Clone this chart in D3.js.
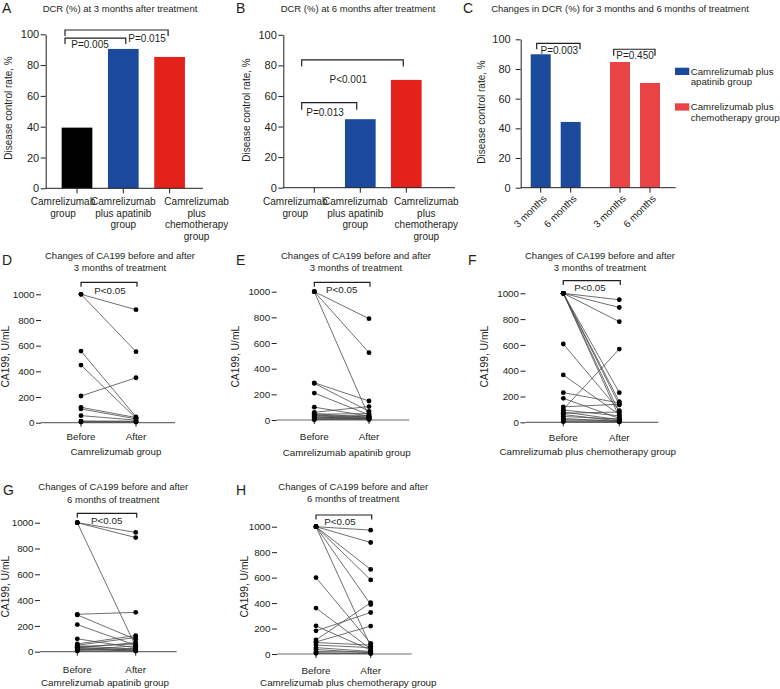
<!DOCTYPE html>
<html><head><meta charset="utf-8">
<script src="https://cdn.jsdelivr.net/npm/d3@7"></script>
<style>
body{margin:0;background:#fff}
svg{display:block}
text{font-family:"Liberation Sans",Arial,Helvetica,sans-serif;fill:#231f20}
</style>
</head><body>
<svg id="c" width="780" height="689"></svg>
<script>
// ---------------- DATA ----------------
const dcrCategories = ["Camrelizumab group", "Camrelizumab plus apatinib group", "Camrelizumab plus chemotherapy group"];
const dcrCategoryLines = [["Camrelizumab", "group"], ["Camrelizumab", "plus apatinib", "group"], ["Camrelizumab", "plus", "chemotherapy", "group"]];
const dcr3Months = [39.4, 90.5, 85.3];
const dcr6Months = [0, 44.8, 70.5];
const dcrTicks = [0, 20, 40, 60, 80, 100];
const changeGroups = ["Camrelizumab plus apatinib group", "Camrelizumab plus chemotherapy group"];
const changeTimes = ["3 months", "6 months"];
const changeApatinib = [89.9, 44.3];
const changeChemo = [84.7, 70.6];
const pA = ["P=0.005", "P=0.015"];
const pB = ["P=0.013", "P<0.001"];
const pC = ["P=0.003", "P=0.450"];
const ca199Ticks = [0, 200, 400, 600, 800, 1000];
const pairLabels = ["Before", "After"];
const pPaired = "P<0.05";

const dBefore = [1000, 1000, 558, 449, 208, 120, 107, 55, 13, 10, 5];
const dAfter  = [880, 553, 45, 35, 350, 40, 30, 20, 12, 8, 5];
const eBefore = [1000, 1000, 1000, 290, 285, 210, 100, 60, 50, 45, 40, 35, 30, 25, 20, 15, 10, 5, 2];
const eAfter  = [790, 525, 25, 148, 68, 40, 30, 105, 20, 50, 15, 10, 35, 8, 5, 30, 12, 3, 18];
const fBefore = [1000, 1000, 1000, 1000, 1000, 1000, 1000, 1000, 607, 367, 230, 186, 120, 100, 95, 80, 70, 60, 45, 30, 20, 12, 5];
const fAfter  = [950, 890, 780, 230, 160, 135, 75, 40, 90, 60, 150, 30, 140, 568, 50, 20, 80, 10, 25, 5, 15, 8, 3];
const gBefore = [1000, 1000, 1000, 290, 285, 210, 100, 60, 50, 45, 40, 35, 30, 25, 20, 15, 10, 5];
const gAfter  = [925, 885, 40, 305, 95, 50, 30, 125, 110, 20, 60, 10, 70, 15, 5, 45, 25, 8];
const hBefore = [1000, 1000, 1000, 1000, 1000, 1000, 600, 361, 221, 182, 110, 95, 90, 70, 50, 35, 20, 10, 5];
const hAfter  = [973, 876, 664, 582, 389, 60, 84, 40, 30, 326, 403, 219, 70, 50, 20, 10, 15, 5, 3];

// ---------------- DRAW ----------------
const INK = "#231f20";
const BLACK = "#000000", BLUE = "#1b4a9c", RED = "#e3221c", BLUE2 = "#1c4a9b", RED2 = "#e84445";
const svg = d3.select("#c");

function panelLetter(t, x, y) {
  svg.append("text").attr("x", x).attr("y", y).attr("font-size", 14).text(t);
}
function textAt(g, t, x, y, size, anchor) {
  return g.append("text").attr("x", x).attr("y", y).attr("font-size", size)
    .attr("text-anchor", anchor || "middle").text(t);
}
function yLabel(g, t, x, y, size) {
  g.append("text").attr("transform", `translate(${x},${y}) rotate(-90)`)
    .attr("text-anchor", "middle").attr("dy", "0.35em").attr("font-size", size).text(t);
}
function styleAxis(sel, size) {
  sel.attr("font-family", null).attr("font-size", size);
  sel.selectAll("path,line").attr("stroke", INK).attr("stroke-width", 1);
  sel.selectAll("text").attr("fill", INK);
}
function bracket(g, x1, x2, yTop, leg) {
  g.append("path").attr("d", `M${x1},${yTop + leg}V${yTop}H${x2}V${yTop + leg}`)
    .attr("fill", "none").attr("stroke", INK).attr("stroke-width", 1.2);
}

function barPanel(cfg) {
  const g = svg.append("g");
  const y = d3.scaleLinear().domain([0, 100]).range([cfg.y0, cfg.y100]);
  const start = cfg.c0 - cfg.step / 2;
  const x = d3.scaleBand().domain(dcrCategories).range([start, start + cfg.step * dcrCategories.length])
    .paddingInner(cfg.pad).paddingOuter(cfg.pad / 2);
  const colors = [BLACK, BLUE, RED];
  g.selectAll("rect").data(cfg.values).join("rect")
    .attr("x", (d, i) => x(dcrCategories[i])).attr("width", x.bandwidth())
    .attr("y", d => y(d)).attr("height", d => y(0) - y(d))
    .attr("fill", (d, i) => colors[i]);
  const ya = g.append("g").attr("transform", `translate(${cfg.ax},0)`)
    .call(d3.axisLeft(y).tickValues(dcrTicks).tickSize(5).tickSizeOuter(0).tickPadding(cfg.tickPad));
  styleAxis(ya, 11);
  const xa = g.append("g").attr("transform", `translate(0,${cfg.y0})`)
    .call(d3.axisBottom(x).tickSize(5).tickSizeOuter(0).tickFormat(""));
  xa.select(".domain").remove();
  styleAxis(xa, 10);
  g.append("line").attr("x1", cfg.ax).attr("x2", cfg.xEnd).attr("y1", cfg.y0).attr("y2", cfg.y0)
    .attr("stroke", INK).attr("stroke-width", 1);
  dcrCategoryLines.forEach((lines, i) => {
    lines.forEach((ln, j) => textAt(g, ln, x(dcrCategories[i]) + x.bandwidth() / 2 + cfg.lblOff[i], cfg.lblY + j * 11.7, 10));
  });
  textAt(g, cfg.title, cfg.titleX, 11.5, 9.5);
  yLabel(g, "Disease control rate, %", cfg.ylab[0], cfg.ylab[1], 10);
  const cx = i => x(dcrCategories[i]) + x.bandwidth() / 2;
  cfg.brackets.forEach(b => {
    bracket(g, cx(b.from) + b.o1, cx(b.to) + b.o2, y(b.v), y(b.v - b.leg) - y(b.v));
    textAt(g, b.p, cx(b.from) + b.tx, y(b.v) + b.ty, 10);
  });
}

barPanel({
  values: dcr3Months, ax: 45.7, xEnd: 203, y0: 188.3, y100: 34.3, c0: 77, step: 46.3, pad: 0.337, tickPad: 1.5,
  lblOff: [-14, 0, 27], lblY: 205, title: "DCR (%) at 3 months after treatment", titleX: 120, ylab: [8, 108],
  brackets: [
    { from: 0, to: 2, o1: -12, o2: -1.5, v: 102.8, leg: 3.9, p: pA[1], tx: 70, ty: 12 },
    { from: 0, to: 1, o1: -12, o2: 2.5, v: 97.5, leg: 3.8, p: pA[0], tx: 13, ty: 10 }
  ]
});
barPanel({
  values: dcr6Months, ax: 283.3, xEnd: 455, y0: 187.7, y100: 34.8, c0: 314.3, step: 46, pad: 0.333, tickPad: 1.5,
  lblOff: [-19, -5, 20], lblY: 205, title: "DCR (%) at 6 months after treatment", titleX: 358, ylab: [246, 110],
  brackets: [
    { from: 0, to: 2, o1: -12.6, o2: -3, v: 83.6, leg: 4.4, p: pB[1], tx: 34, ty: 23.5 },
    { from: 0, to: 1, o1: -12.6, o2: -3.6, v: 55.7, leg: 4.8, p: pB[0], tx: 10.7, ty: 13.3 }
  ]
});

// Panel C
(function () {
  const g = svg.append("g");
  const ax = 520.7, xEnd = 675.7, y0 = 187.7;
  const y = d3.scaleLinear().domain([0, 100]).range([y0, 39.3]);
  const gx = d3.scalePoint().domain(changeGroups).range([555.7, 635]);
  const ix = d3.scaleBand().domain(changeTimes).range([-30, 30]).paddingInner(1 / 3).paddingOuter(1 / 6);
  const series = [changeApatinib, changeChemo];
  const cols = [BLUE2, RED2];
  const centers = [];
  changeGroups.forEach((grp, gi) => {
    const gg = g.append("g").attr("transform", `translate(${gx(grp)},0)`);
    gg.selectAll("rect").data(series[gi]).join("rect")
      .attr("x", (d, i) => ix(changeTimes[i])).attr("width", ix.bandwidth())
      .attr("y", d => y(d)).attr("height", d => y0 - y(d)).attr("fill", cols[gi]);
    changeTimes.forEach(t => centers.push({ t, x: gx(grp) + ix(t) + ix.bandwidth() / 2 }));
  });
  const ya = g.append("g").attr("transform", `translate(${ax},0)`)
    .call(d3.axisLeft(y).tickValues(dcrTicks).tickSize(5).tickSizeOuter(0).tickPadding(5));
  styleAxis(ya, 11);
  g.append("line").attr("x1", ax).attr("x2", xEnd).attr("y1", y0).attr("y2", y0).attr("stroke", INK);
  centers.forEach(c => {
    g.append("line").attr("x1", c.x).attr("x2", c.x).attr("y1", y0).attr("y2", y0 + 5).attr("stroke", INK);
    g.append("text").attr("transform", `translate(${c.x + 4},${y0 + 9}) rotate(-45)`)
      .attr("text-anchor", "end").attr("dy", "0.35em").attr("font-size", 10).text(c.t);
  });
  textAt(g, "Changes in DCR (%) for 3 months and 6 months of treatment", 620, 11.5, 9.5);
  yLabel(g, "Disease control rate, %", 481.7, 112, 10);
  bracket(g, centers[0].x - 4, centers[1].x + 9.3, y(97.3), 6);
  textAt(g, pC[0], (centers[0].x + centers[1].x) / 2 + 3.6, y(97.3) + 10.7, 10);
  bracket(g, centers[2].x - 6.3, centers[3].x + 5, y(93.3), 6.4);
  textAt(g, pC[1], (centers[2].x + centers[3].x) / 2, y(93.3) + 10.2, 10);
  // legend
  const leg = [{ c: BLUE2, l: ["Camrelizumab plus", "apatinib group"], y: 67.7 }, { c: RED2, l: ["Camrelizumab plus", "chemotherapy group"], y: 103.3 }];
  leg.forEach(d => {
    g.append("rect").attr("x", 675).attr("y", d.y).attr("width", 14.3).attr("height", 7.3).attr("fill", d.c);
    d.l.forEach((ln, j) => textAt(g, ln, 690.7, d.y + 6.8 + j * 10.8, 9.7, "start"));
  });
})();

function pairedPanel(cfg) {
  const g = svg.append("g");
  const y = d3.scaleLinear().domain([0, 1000]).range([cfg.y0, cfg.y1000]);
  const x = d3.scalePoint().domain(pairLabels).range([cfg.bx, cfg.afx]);
  const ya = g.append("g").attr("transform", `translate(${cfg.ax},0)`)
    .call(d3.axisLeft(y).tickValues(ca199Ticks).tickFormat(d3.format("d")).tickSize(5).tickPadding(1.5));
  ya.select(".domain").remove();
  styleAxis(ya, 9.8);
  g.append("line").attr("x1", cfg.ax).attr("x2", cfg.xEnd).attr("y1", cfg.y0).attr("y2", cfg.y0)
    .attr("stroke", "#6d6d6d").attr("stroke-width", 1.2);
  pairLabels.forEach(p => {
    g.append("line").attr("x1", x(p)).attr("x2", x(p)).attr("y1", cfg.y0).attr("y2", cfg.y0 + 4).attr("stroke", INK);
    textAt(g, p, x(p), cfg.tickLblY, 9.8);
  });
  const pairs = cfg.before.map((b, i) => [b, cfg.after[i]]);
  g.selectAll("line.pair").data(pairs).join("line").attr("class", "pair")
    .attr("x1", x("Before")).attr("x2", x("After"))
    .attr("y1", d => y(d[0])).attr("y2", d => y(d[1]))
    .attr("stroke", "#4a4a4a").attr("stroke-width", 0.8);
  g.selectAll("circle.b").data(cfg.before).join("circle").attr("class", "b")
    .attr("cx", x("Before")).attr("cy", d => y(d)).attr("r", 2.4).attr("fill", "#000");
  g.selectAll("circle.a").data(cfg.after).join("circle").attr("class", "a")
    .attr("cx", x("After")).attr("cy", d => y(d)).attr("r", 2.4).attr("fill", "#000");
  bracket(g, x("Before"), x("After") + 1, cfg.brTop, 4.4);
  textAt(g, pPaired, cfg.pX, cfg.pY, 9.8);
  textAt(g, "Changes of CA199 before and after", cfg.titleX, cfg.titleY, 9.5);
  textAt(g, cfg.title2, cfg.titleX, cfg.titleY + 12.6, 9.5);
  textAt(g, cfg.group, cfg.grpX, cfg.grpY, 9.8);
  yLabel(g, "CA199, U/mL", cfg.ylab[0], cfg.ylab[1], 10.3);
}

pairedPanel({ before: dBefore, after: dAfter, ax: 41, xEnd: 175, y0: 422.7, y1000: 294.3, bx: 81, afx: 136, brTop: 282.3,
  pX: 110, pY: 294, titleX: 120, titleY: 258.5, title2: "3 months of treatment", tickLblY: 440,
  group: "Camrelizumab group", grpX: 116, grpY: 454.5, ylab: [5.5, 356.7] });
pairedPanel({ before: eBefore, after: eAfter, ax: 276.7, xEnd: 409.3, y0: 420, y1000: 291.7, bx: 314.3, afx: 369, brTop: 282.3,
  pX: 341.7, pY: 292.5, titleX: 356, titleY: 258.5, title2: "3 months of treatment", tickLblY: 440,
  group: "Camrelizumab apatinib group", grpX: 346.7, grpY: 455.8, ylab: [235, 356.7] });
pairedPanel({ before: fBefore, after: fAfter, ax: 525.5, xEnd: 658.3, y0: 422.3, y1000: 293.3, bx: 563.3, afx: 619.3, brTop: 280.7,
  pX: 590, pY: 290.8, titleX: 600, titleY: 258.5, title2: "3 months of treatment", tickLblY: 441,
  group: "Camrelizumab plus chemotherapy group", grpX: 587.7, grpY: 455, ylab: [484, 356.7] });
pairedPanel({ before: gBefore, after: gAfter, ax: 40, xEnd: 176.7, y0: 651.7, y1000: 522.7, bx: 77.3, afx: 135.7, brTop: 513.3,
  pX: 106.7, pY: 524, titleX: 113.3, titleY: 490, title2: "6 months of treatment", tickLblY: 672.5,
  group: "Camrelizumab apatinib group", grpX: 105, grpY: 686, ylab: [5, 586.7] });
pairedPanel({ before: hBefore, after: hAfter, ax: 277, xEnd: 411.7, y0: 654, y1000: 526.7, bx: 316, afx: 370.7, brTop: 515,
  pX: 340, pY: 525, titleX: 353.3, titleY: 489.5, title2: "6 months of treatment", tickLblY: 673.5,
  group: "Camrelizumab plus chemotherapy group", grpX: 348.3, grpY: 686, ylab: [244, 586.7] });

panelLetter("A", 2, 13); panelLetter("B", 236, 13); panelLetter("C", 463, 13);
panelLetter("D", 2, 265); panelLetter("E", 236, 265); panelLetter("F", 468, 265);
panelLetter("G", 3, 495); panelLetter("H", 236, 495);
</script>
</body></html>
